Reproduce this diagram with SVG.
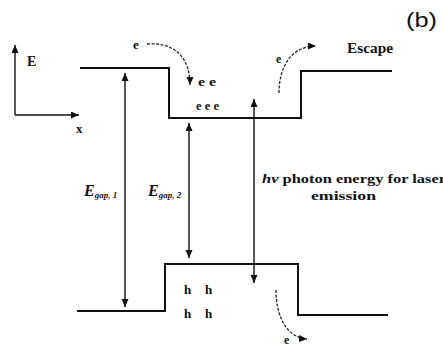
<svg xmlns="http://www.w3.org/2000/svg" width="443" height="355" viewBox="0 0 443 355">
<defs>
<marker id="ah" markerUnits="userSpaceOnUse" markerWidth="9" markerHeight="8" refX="8" refY="3.5" orient="auto-start-reverse">
<path d="M0,0 L8,3.5 L0,7 z" fill="#111"/>
</marker>
<style>
.band{fill:none;stroke:#111;stroke-width:2;stroke-linejoin:miter}
.arr{fill:none;stroke:#111;stroke-width:1.4}
.dash{fill:none;stroke:#222;stroke-width:1.3;stroke-dasharray:3 1.5}
.t{font-family:"Liberation Serif",serif;font-weight:bold;fill:#111}
.it{font-family:"Liberation Serif",serif;font-style:italic;font-weight:bold;fill:#111}
</style>
</defs>
<rect width="443" height="355" fill="#fff"/>
<g id="axes">
<path class="arr" d="M15,115 L15,45" marker-end="url(#ah)"/>
<path class="arr" d="M15,115 L79,115" marker-end="url(#ah)"/>
<text class="t" x="27" y="66" font-size="14" font-weight="normal">E</text>
<text class="t" x="76" y="133" font-size="13">x</text>
</g>
<g id="conduction-band">
<path class="band" d="M80,68 L169,68 L169,118 L301,118 L301,71 L392,71"/>
</g>
<g id="valence-band">
<path class="band" d="M77,311 L165,311 L165,264 L298,264 L298,315 L388,315"/>
</g>
<g id="connectors">
<path class="arr" d="M125,307 L125,73" marker-start="url(#ah)" marker-end="url(#ah)"/>
<path class="arr" d="M189,258 L189,123" marker-start="url(#ah)" marker-end="url(#ah)"/>
<path class="arr" d="M254,283 L254,99" marker-start="url(#ah)" marker-end="url(#ah)"/>
<path class="dash" d="M147,44 C172,42 190,55 190,85" marker-end="url(#ah)"/>
<path class="dash" d="M279,93 C279,66 292,46 316,46" marker-end="url(#ah)"/>
<path class="dash" d="M276,290 C276,318 288,338 307,339" marker-end="url(#ah)"/>
</g>
<g id="labels">
<text x="406" y="27" font-family="Liberation Sans,sans-serif" font-size="20" textLength="31" lengthAdjust="spacingAndGlyphs" fill="#111">(b)</text>
<text class="t" x="133" y="49" font-size="13">e</text>
<text class="t" x="198" y="86" font-size="12" textLength="18" lengthAdjust="spacingAndGlyphs">e e</text>
<text class="t" x="196" y="110" font-size="12" textLength="23" lengthAdjust="spacingAndGlyphs">e e e</text>
<text class="t" x="276" y="63" font-size="12">e</text>
<text class="t" x="347" y="53" font-size="14" textLength="46" lengthAdjust="spacingAndGlyphs">Escape</text>
<text class="it" x="84" y="196" font-size="16">E<tspan font-size="9" dy="2">gap, 1</tspan></text>
<text class="it" x="148" y="196" font-size="16">E<tspan font-size="9" dy="2">gap, 2</tspan></text>
<text class="t" x="262" y="183" font-size="13" textLength="184" lengthAdjust="spacingAndGlyphs"><tspan font-style="italic">hν</tspan> photon energy for laser</text>
<text class="t" x="311" y="200" font-size="13" textLength="65" lengthAdjust="spacingAndGlyphs">emission</text>
<text class="t" x="184" y="294" font-size="13">h</text>
<text class="t" x="205" y="294" font-size="13">h</text>
<text class="t" x="184" y="318" font-size="13">h</text>
<text class="t" x="205" y="318" font-size="13">h</text>
<text class="t" x="284" y="344" font-size="12">e</text>
</g>
</svg>
